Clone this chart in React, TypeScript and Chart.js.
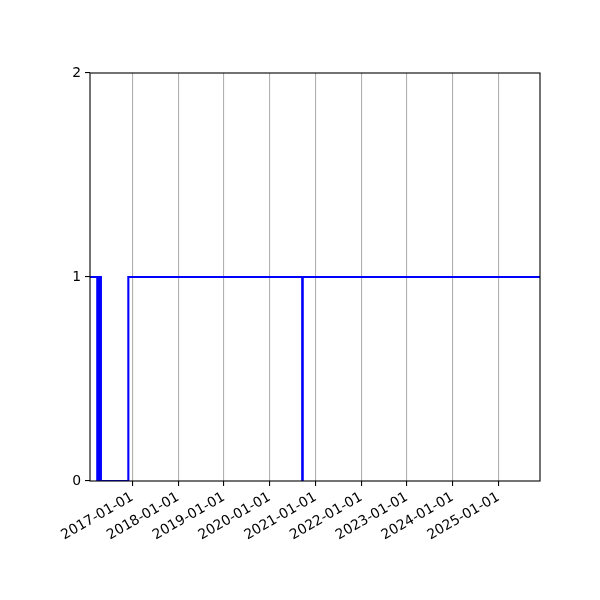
import { useEffect, useRef } from "react"
import { Chart, registerables } from "chart.js"

Chart.register(...registerables)

// dates where the state changes, and the state from that date on
const changeDates = [
  "2016-01-28",
  "2016-03-26",
  "2016-04-02",
  "2016-04-09",
  "2016-04-16",
  "2016-04-24",
  "2016-11-29",
  "2020-09-17",
  "2020-09-21",
  "2025-11-28",
]
const states = [1, 0, 1, 0, 1, 0, 1, 0, 1, 1]

const tickYears = [2017, 2018, 2019, 2020, 2021, 2022, 2023, 2024, 2025]
const yTicks = [0, 1, 2]

const toMs = (s: string) => {
  const [y, m, d] = s.split("-").map(Number)
  return Date.UTC(y, m - 1, d)
}

const fmtDate = (ms: number) => new Date(ms).toISOString().slice(0, 10)

const framePlugin = {
  id: "frame",
  afterDatasetsDraw(chart: Chart) {
    const { ctx, chartArea } = chart
    ctx.save()
    ctx.strokeStyle = "#000"
    ctx.lineWidth = 1.1
    ctx.strokeRect(chartArea.left, chartArea.top, chartArea.right - chartArea.left, chartArea.bottom - chartArea.top)
    ctx.restore()
  },
}

export default function App() {
  const chartRef = useRef<HTMLCanvasElement>(null)
  const chartInstance = useRef<Chart | null>(null)

  useEffect(() => {
    if (!chartRef.current) return
    if (chartInstance.current) chartInstance.current.destroy()
    const ctx = chartRef.current.getContext("2d")
    if (!ctx) return

    const font = { family: "'DejaVu Sans', sans-serif", size: 13.9 }

    chartInstance.current = new Chart(ctx, {
      type: "line",
      data: {
        datasets: [
          {
            data: changeDates.map((d, i) => ({ x: toMs(d), y: states[i] })),
            borderColor: "#0000ff",
            borderWidth: 2.1,
            pointRadius: 0,
            stepped: "before",
            fill: false,
          },
        ],
      },
      options: {
        responsive: false,
        animation: false,
        layout: { padding: { top: 73, right: 60, left: 0, bottom: 0 } },
        plugins: {
          legend: { display: false },
          tooltip: { enabled: false },
        },
        scales: {
          x: {
            type: "linear",
            min: toMs(changeDates[0]),
            max: toMs(changeDates[changeDates.length - 1]),
            afterBuildTicks: (scale: any) => {
              scale.ticks = tickYears.map((y) => ({ value: Date.UTC(y, 0, 1) }))
            },
            afterFit: (scale: any) => {
              scale.height = 119
            },
            ticks: {
              color: "#000",
              font,
              minRotation: 30,
              maxRotation: 30,
              padding: 3,
              autoSkip: false,
              callback: (v: any) => fmtDate(Number(v)),
            },
            grid: {
              color: "#b0b0b0",
              lineWidth: 1.1,
              tickColor: "#000",
              tickLength: 5,
            },
            border: { display: false },
          },
          y: {
            type: "linear",
            min: 0,
            max: 2,
            afterBuildTicks: (scale: any) => {
              scale.ticks = yTicks.map((v) => ({ value: v }))
            },
            afterFit: (scale: any) => {
              scale.width = 90
            },
            ticks: {
              color: "#000",
              font,
              padding: 4,
              callback: (v: any) => String(v),
            },
            grid: {
              drawOnChartArea: false,
              tickColor: "#000",
              tickLength: 5,
              lineWidth: 1.1,
            },
            border: { display: false },
          },
        },
      },
      plugins: [framePlugin],
    })

    return () => {
      if (chartInstance.current) {
        chartInstance.current.destroy()
        chartInstance.current = null
      }
    }
  }, [])

  return (
    <div style={{ position: "fixed", left: 0, top: 0, width: 600, height: 600, background: "#fff" }}>
      <canvas ref={chartRef} width={600} height={600} />
    </div>
  )
}
